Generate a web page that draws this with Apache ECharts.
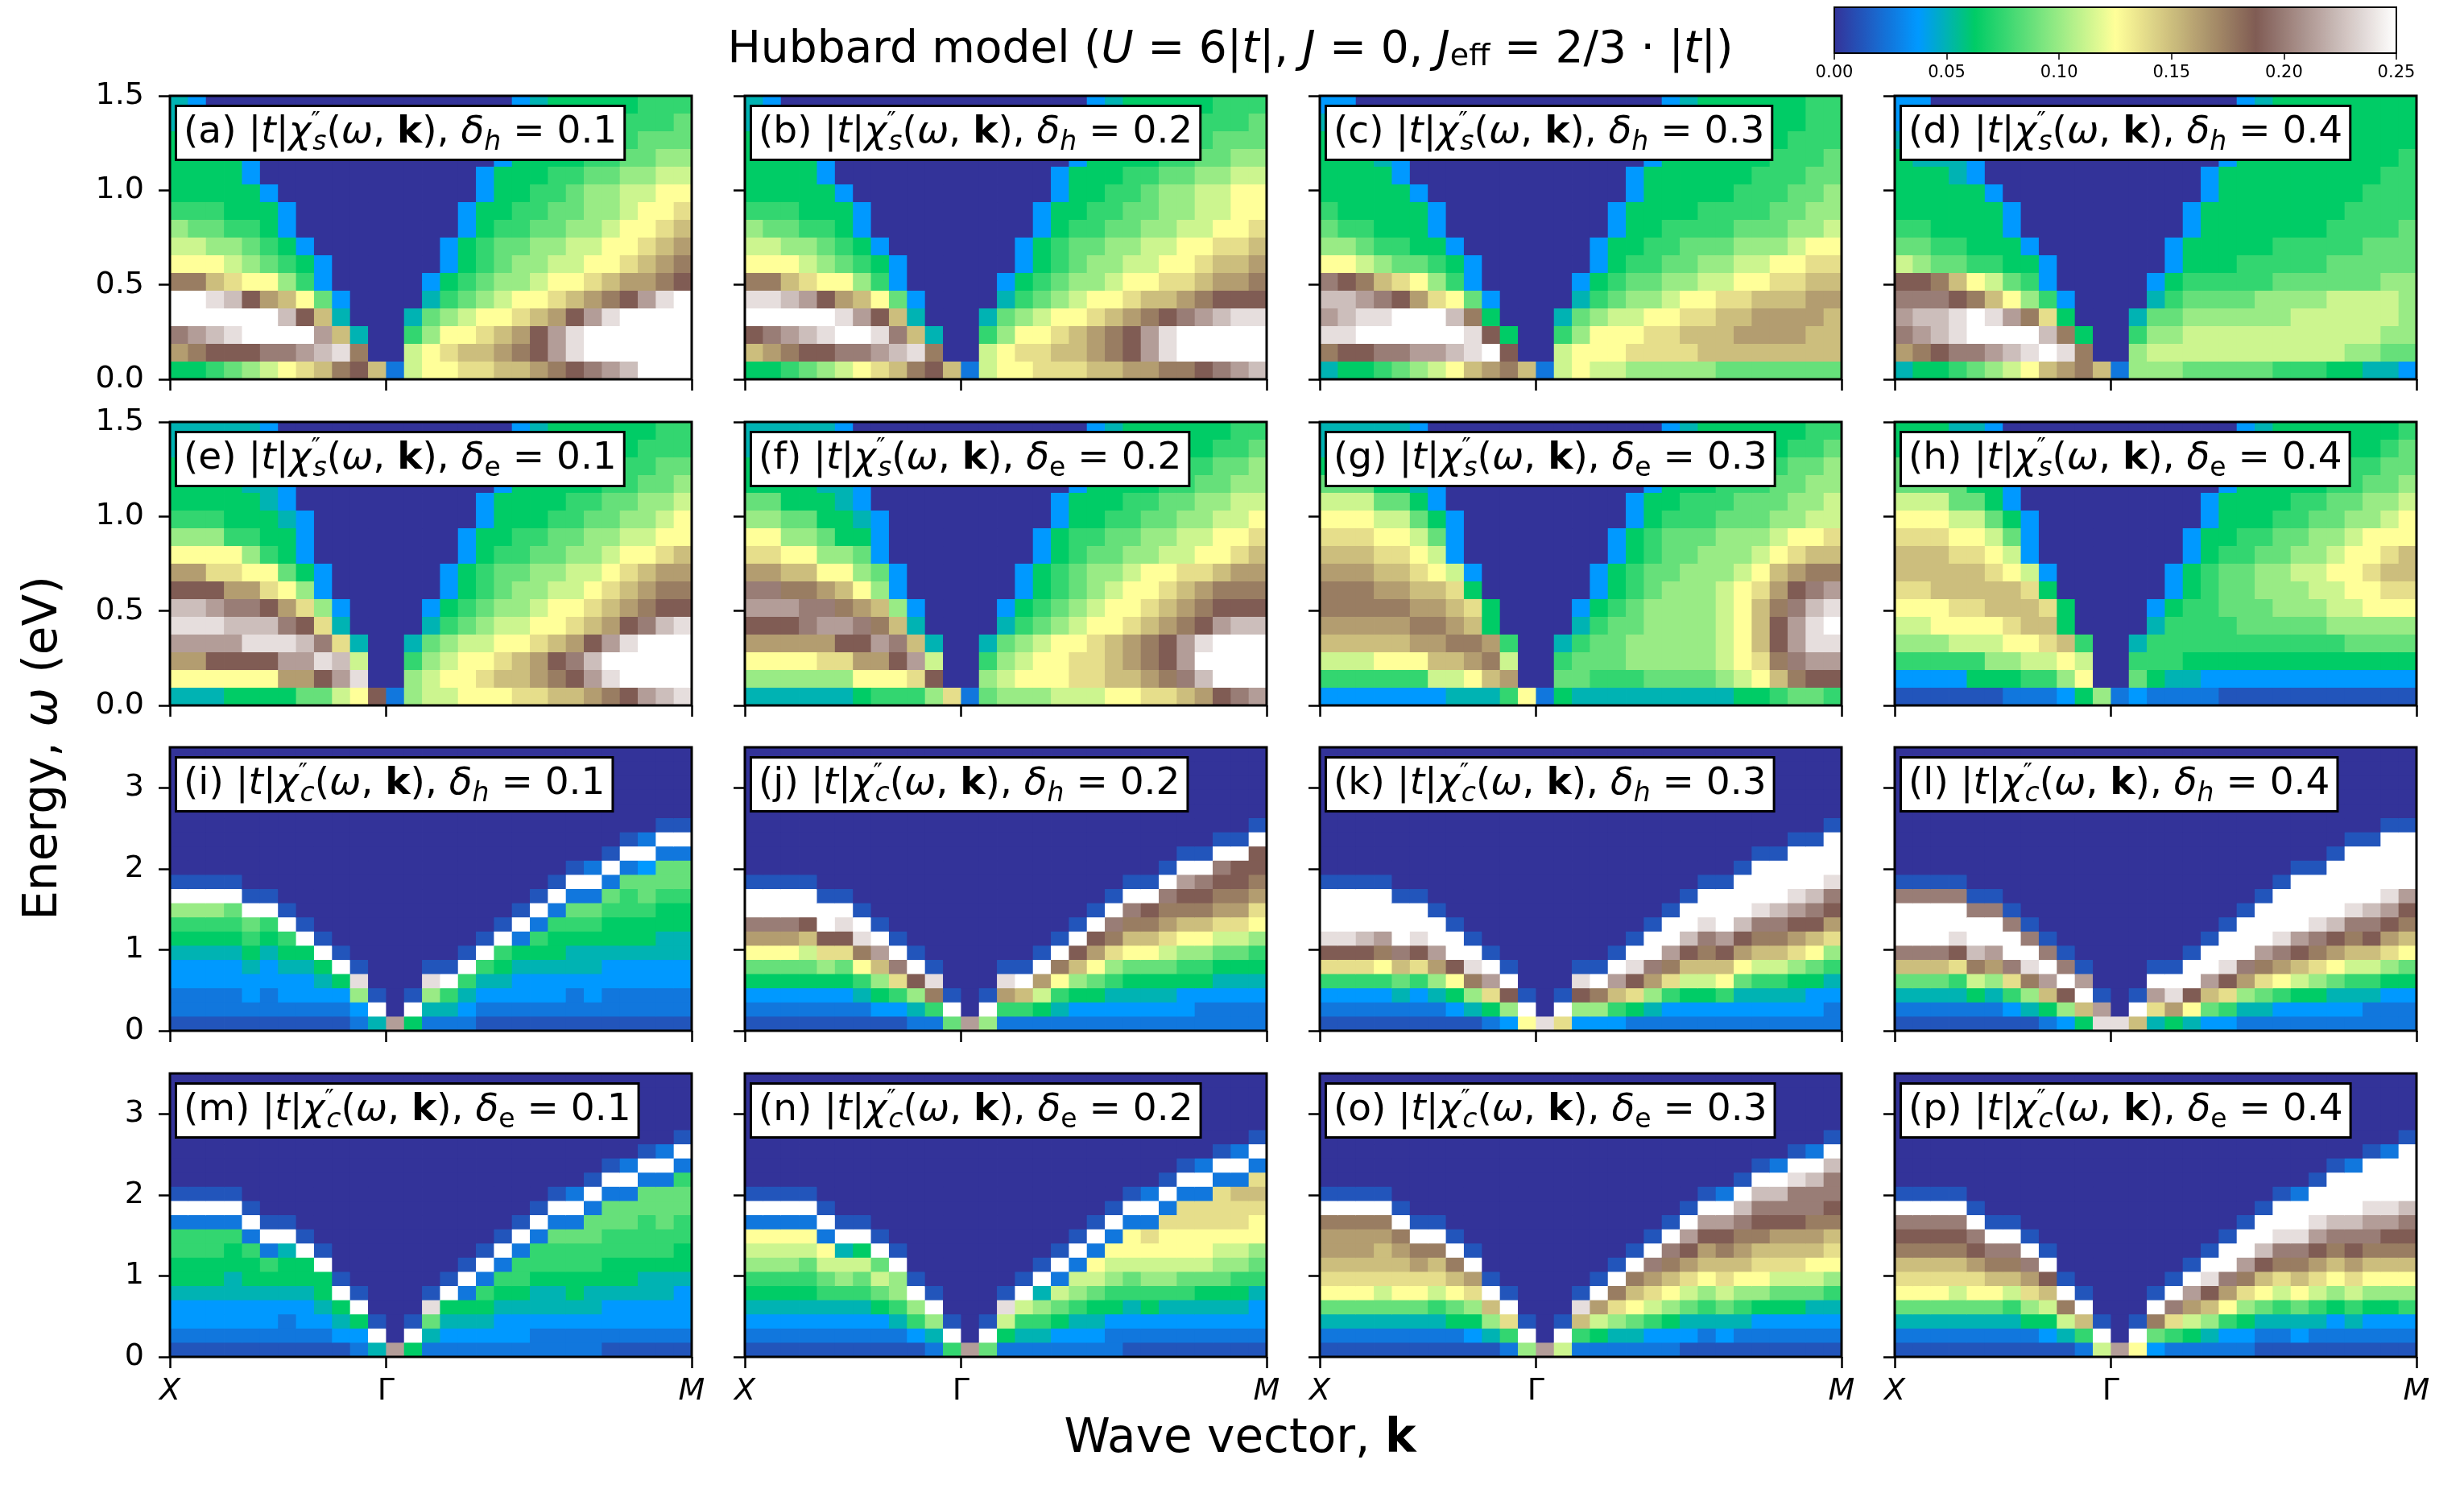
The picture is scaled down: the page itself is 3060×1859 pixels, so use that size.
<!DOCTYPE html>
<html>
<head>
<meta charset="utf-8">
<title>Hubbard model susceptibility</title>
<script src="https://cdn.jsdelivr.net/npm/echarts@6.0.0/dist/echarts.min.js"></script>
<style>
  html, body { margin: 0; padding: 0; background: #fff; }
  #chart { width: 3060px; height: 1859px; }
</style>
</head>
<body>
<div id="chart"></div>
<script>
// -------------------------
// Spin / charge susceptibility maps, Hubbard model
// -------------------------

const F = 'DejaVu Sans';

// one character per cell: level n means |t|chi'' = n * 0.0125 (k = 0.25, white)
const levels = '0123456789abcdefghijk';
const levelStep = 0.0125;
const z = n => '0'.repeat(n);   // run of empty (navy) cells

// k path X -> Gamma -> M, 12 + 17 cells
const kTicks = [0, 1, 1 + Math.SQRT2];
const kTickNames = ['X', 'Γ', 'M'];
const nKX = 12, nKM = 17;

const spinTicks = [0, 0.5, 1.0, 1.5];
const chargeTicks = [0, 1, 2, 3];
const colorbarTicks = [0, 0.05, 0.10, 0.15, 0.20, 0.25];
const dopings = [0.1, 0.2, 0.3, 0.4];
const panelLetters = 'abcdefghijklmnop';

// ---- spin panels: 16 rows (top = 1.5 eV), 29 k cells each ----
const spinA = [
  '43' + z(17) + '3455555666',
  '453' + z(16) + '3555556667',
  '5553' + z(14) + '35555566777',
  '55553' + z(13) + '35555667788',
  '55553' + z(12) + '355566778899',
  '555553' + z(11) + '3556678899aa',
  '6665553' + z(9) + '3556677889aab',
  '8776653' + z(9) + '356677889aabc',
  '99887653' + z(7) + '356778899aabcd',
  'aaa987653' + z(6) + '35678899aabcde',
  'eecbaa863' + z(5) + '3567889aabcddef',
  'kkjifdca73' + z(4) + '46789aabcdefhjk',
  'kkkkkkifc4' + z(3) + '4789aabcdfhjkkkk',
  'ghijkkkkhc4' + z(2) + '68aabcdfhjkkkkkk',
  'defffgghije' + z(2) + '9abccdefhjkkkkkk',
  '556789abcefc' + '2' + '9aabbccdefghikkk'
];
const spinB = [
  '43' + z(17) + '3455555666',
  '453' + z(16) + '3555556667',
  '5553' + z(14) + '35555566777',
  '55553' + z(13) + '35555667788',
  '55553' + z(12) + '355566778899',
  '555553' + z(11) + '3556678899aa',
  '6665553' + z(9) + '35566778899aa',
  '8776653' + z(9) + '3566778899aab',
  '99887653' + z(7) + '356778899aabbc',
  'aaa987653' + z(6) + '35678899aabccd',
  'eecbaa863' + z(5) + '3567889aabbcdde',
  'jjihfdca73' + z(4) + '46789aabccdefff',
  'kkkkkjhfc4' + z(3) + '4789aabcdefghijj',
  'fghijkkjgc4' + z(2) + '68aabcdefhjkkkkk',
  'cdeffgghije' + z(2) + '9abbccdefhjkkkkk',
  '556789abcefc' + '2' + '9aabbbccddeefghi'
];
const spinC = [
  '33' + z(17) + '3455555566',
  '433' + z(16) + '3555555566',
  '5443' + z(14) + '35555555666',
  '55543' + z(13) + '35555556667',
  '55553' + z(12) + '355555566677',
  '555553' + z(11) + '355555666778',
  '6555553' + z(9) + '3555566667788',
  '7665553' + z(9) + '3556666777889',
  '88766553' + z(7) + '355667778889aa',
  'aa9877653' + z(6) + '3566778899aabb',
  'gfecba863' + z(5) + '356778899aabbcc',
  'iihgfdba73' + z(4) + '467889aabbcccdd',
  'hijjkkkie5' + z(3) + '47899aabbccddddc',
  'jjkkkkkkjf5' + z(2) + '68aaabbcccddddcc',
  'effgghhijkf' + z(2) + '9aaabbbbcccccccc',
  '4556789acdec' + '2' + '9a99888887777777'
];
const spinD = [
  '33' + z(17) + '3455555555',
  '333' + z(16) + '3555555555',
  '4433' + z(14) + '35555555555',
  '54443' + z(13) + '35555555556',
  '55543' + z(12) + '355555555566',
  '555553' + z(11) + '355555555666',
  '5555553' + z(9) + '3555555556666',
  '6655553' + z(9) + '3555555566667',
  '77665553' + z(7) + '35555566666777',
  '987766553' + z(6) + '35556666677777',
  'ffeca9763' + z(5) + '356666677777788',
  'gggfeca863' + z(4) + '467777888899998',
  'hiijkjheb5' + z(3) + '4778888889999998',
  'ghijkkkkie5' + z(2) + '6889999999999988',
  'defgghijkje' + z(2) + '8999999999998877',
  '4556789acdec' + '2' + '8887777766655443'
];
const spinE = [
  '444443' + z(13) + '3455555566',
  '444443' + z(13) + '3555555666',
  '5544443' + z(11) + '35555556677',
  '5555443' + z(11) + '35555566778',
  '5555543' + z(10) + '355556677889',
  '66655543' + z(9) + '35556677889a',
  '88866553' + z(8) + '35566778899aa',
  'aaaa8653' + z(8) + '356677889aabc',
  'ddbbaa753' + z(6) + '356778899abcdd',
  'fffddba83' + z(6) + '35678899abcdee',
  'iihggfdb83' + z(4) + '3567889aabcdeff',
  'jjjiiigfb4' + z(4) + '467899aabcdfgij',
  'hhhhjjjigb4' + z(2) + '47899aabcdfhjkkk',
  'ddffffhhji9' + z(2) + '689aabcdfgikkkkk',
  'aaaaaaddfhj' + z(2) + '89aabccdefhjkkkk',
  '4445555779af' + '2' + '899aaabbccdefhij'
];
const spinF = [
  '444443' + z(13) + '3455555566',
  '444443' + z(13) + '3555555667',
  '5544443' + z(11) + '35555566778',
  '5555443' + z(11) + '35555667788',
  '7755543' + z(10) + '355566778899',
  '88775543' + z(9) + '35566778899a',
  'aa887553' + z(8) + '3566778899aab',
  'bbaa8873' + z(8) + '356778899aabc',
  'ddccaa873' + z(6) + '3567889aabbcdd',
  'ggeedca83' + z(6) + '356789aabcdeee',
  'hhhggedc83' + z(4) + '356789aabcdefff',
  'fffghhgec4' + z(4) + '46789aabcdefhii',
  'dddddffhgc4' + z(2) + '4789aabcdefhjkkk',
  'aaaabbddfh9' + z(2) + '689aabbcdefhkkkk',
  '888888aaabf' + z(2) + '89aaabbccdegikkk',
  '44444456668b' + '2' + '7888999aabbcdfgh'
];
const spinG = [
  '444443' + z(13) + '3455555566',
  '444443' + z(13) + '3555555667',
  '5554443' + z(11) + '35555566778',
  '7775543' + z(11) + '35556667788',
  '9997753' + z(10) + '355666777889',
  'aaa99753' + z(9) + '356667778899',
  'bbbaa973' + z(8) + '3567778889aab',
  'cccbba93' + z(8) + '356778889abcc',
  'dddccba93' + z(6) + '356778889acdee',
  'eeeddccb5' + z(6) + '35678889abdfgh',
  'eeeeeddcb5' + z(4) + '356788889acegij',
  'dddddeedc5' + z(4) + '467788889acfhjk',
  'cccccddeed6' + z(2) + '4677888889acfhjj',
  '999aaaccde9' + z(2) + '6777888889abeghh',
  '66666699acd' + z(2) + '77666777789aceff',
  '33333334446a' + '2' + '5444444444556776'
];
const spinH = [
  '555443' + z(13) + '3455555556',
  '555543' + z(13) + '3555555567',
  '7755553' + z(11) + '35555556677',
  '7777553' + z(11) + '35555566778',
  '9997753' + z(10) + '355556677889',
  'aaa99753' + z(9) + '35556677889a',
  'bbbaa973' + z(8) + '3556677889aaa',
  'cccbba93' + z(8) + '356677889aabc',
  'cccccba93' + z(6) + '356778899aabcc',
  'bbcccccb5' + z(6) + '3567788899aabb',
  'aaabbcccb5' + z(4) + '356677788899aaa',
  '99aaaabcc5' + z(4) + '466667777788888',
  '888999aabc6' + z(2) + '4666666666667777',
  '666668899a9' + z(2) + '6665555555555555',
  '3333555668a' + z(2) + '7544333333333333',
  '111111222358' + '2' + '3222211111111111'
];

// ---- charge panels: one string per k cell, listed down to 0 eV;
//      the 20 rows (top = 3.5 eV) above the listed cells are empty ----
const chargeI = ['1k865433221', '1k865433221', '1k865433221', '1k765433221', '1k76543321', '1k65433221',
  '1k6543321', '1k543321', '1k54321', '1k5321', '1j832', '1k4', 'h', '1k5', '1j842', '1k642', '1k6432',
  '1k64321', '1k654321', '1k2543321', '1k26543321', '1k265543321', '1k2765443221', '2k2765443321',
  '1k27655433221', '1k276655433221', '2k377655433221', '1k2776554433221', '1k2776554433221'];
const chargeJ = ['1kkgda75321', '1kkgda75321', '1kkgda75321', '1kkfc975321', '1kkfb85321', '1kjfb75321',
  '1kjea6421', '1khc8531', '1kgb631', '1kf842', '1je62', '1k7', 'h', '1k8', '1jd62', '1kc62', '1kd952',
  '1kea642', '1kfc8532', '1kfda7532', '1kgeb86432', '1kgeca75432', '1kfeca75432', '1kgedb975432',
  '1khfeca865332', '1kgfeca865322', '1kgfedb9754322', '1kffedb9754322', '1kffedba8654322'];
const chargeK = ['1kkkjfb6321', '1kkkjfb6321', '1kkkifb6321', '1kkkhea6321', '1kkkgc7421', '1kkjfb6321',
  '1kkhd8421', '1kkfa531', '1kje841', '1khb52', '1kf83', '1ka', 'j', '1kb', '1jf83', '1ke83', '1khc63',
  '1kjfb52', '1kkgd842', '1kkheb632', '1kkifc9532', '1kkjgec9532', '1kkkhfca632', '1kkkifda7432',
  '1kkkjgec96432', '1kkkigec96432', '1kkkjhfdb85432', '1kkkigfca75332', '1kkkjgfdb864322'];
const chargeL = ['1gkkkgc7421', '1gkkkgc7421', '1gkkkgc7421', '1gkkjfb6421', '1gkkie9521', '1gkkhd8421',
  '1gkkgb631', '1gkje841', '1gkhc52', '1gkf83', '1hkc5', '1hj', 'j', '1kc', '1khb4', '1kjd5', '1kkfa4',
  '1kkhc73', '1kkjfb63', '1kkkgd842', '1kkkheb742', '1kkkjgda632', '1kkkkhfc9532', '1kkkjgeb8532',
  '1kkkkifda7432', '1kkkkjgec96432', '1kkkkigfc96422', '1kkkkjhfdb85322', '1kkkkhfeca75322'];
const chargeM = ['1k2665543321', '1k2665543321', '1k2665543321', '1k2655443321', '1k265543321', '1k26543321',
  '1k45543221', '1k5543321', '1k554321', '1k5431', '1k532', '1k4', 'h', '1k5', '1j742', '1k5432', '1k25432',
  '1k265432', '1k2654332', '1k26654332', '1k266544322', '1k2766544322', '2k2766554322', '1k27766544322',
  '1k277665543321', '2k277665543321', '1k2776665443321', '2k2777665443321', '1k26776655433321'];
const chargeN = ['1k2a98654321', '1k2a98654321', '1k2a98654321', '1k2a97654321', '1k2a9764321', '1k49864321',
  '1k59764321', '1k7975321', '1k886421', '1k8631', '1k842', '1k6', 'h', '1k7', '1j952', '1k9642', '1k48642',
  '1k297532', '1k2986432', '1k2a975432', '1k2a9865322', '1k2aa9764321', '2k2ba9865321', '1k2baa9864321',
  '1k2bbaa9764321', '2k2bbaa9754321', '1k2bbba98754321', '2k2cbba98654321', '1k2bcbaa87643321'];
const chargeO = ['1keddcba7421', '1keddcba7421', '1keddcba7421', '1kedccb97421', '1kedcba7421', '1kedba7421',
  '1kecb96421', '1keca7521', '1kdb8531', '1kc841', '1kb62', '1k8', 'h', '1k9', '1jc62', '1kd952', '1keb842',
  '1keca742', '1kgdb9632', '1kgeca8532', '1khfdb97431', '1khfdca86421', '2khfecb97431', '1kigedca86421',
  '1kigfecba85321', '2kigfdcb975321', '1kjggfdcb975321', '2kiggedca974321', '1kiggfecba864321'];
const chargeP = ['1kgfecba7421', '1kgfecba7421', '1kgfecba7421', '1kgfecb97421', '1kgfdba7421', '1kgeca7421',
  '1kgec96421', '1kgdb8521', '1kfc9531', '1ke941', '1kc62', '1k9', 'h', '1ka', '1ke73', '1kgb62', '1khd952',
  '1kjfc842', '1kkgda632', '1kkheb8532', '1kkifca7421', '1kkjgeb96421', '2kkjgeca7431', '1kkjhfdb96421',
  '1kkkigeca85321', '2kkkigfdb96421', '1kkkjhgeca85321', '2kkkjhfeca85321', '1kkkkigfeca86321'];

const spinMaps = [spinA, spinB, spinC, spinD, spinE, spinF, spinG, spinH];
const chargeMaps = [chargeI, chargeJ, chargeK, chargeL, chargeM, chargeN, chargeO, chargeP];

// ----------------------
// Helpers
// ----------------------
const nK = nKX + nKM;
function kEdge(c) {
  return c <= nKX ? c * kTicks[1] / nKX : kTicks[1] + (c - nKX) * (kTicks[2] - kTicks[1]) / nKM;
}
function level(ch) {
  const i = levels.indexOf(ch);
  return (i < 0 ? 0 : i) * levelStep;
}
function spinCells(rows, wMax) {
  const n = rows.length, dw = wMax / n, out = [];
  rows.forEach((row, r) => {
    if (row.length !== nK) console.warn('row length', row.length);
    const w0 = (n - 1 - r) * dw;
    for (let c = 0; c < nK; c++) out.push([kEdge(c), kEdge(c + 1), w0, w0 + dw, level(row[c] || '0')]);
  });
  return out;
}
function chargeCells(cols, wMax, n) {
  const dw = wMax / n, out = [];
  cols.forEach((tail, c) => {
    const col = tail.padStart(n, '0');
    for (let r = 0; r < n; r++) {
      const w0 = (n - 1 - r) * dw;
      out.push([kEdge(c), kEdge(c + 1), w0, w0 + dw, level(col[r])]);
    }
  });
  return out;
}
function renderCell(params, api) {
  const a = api.coord([api.value(0), api.value(3)]);
  const b = api.coord([api.value(1), api.value(2)]);
  return {
    type: 'rect',
    shape: { x: a[0], y: a[1], width: b[0] - a[0] + 0.8, height: b[1] - a[1] + 0.8 },
    style: { fill: api.visual('color') }
  };
}

// matplotlib "terrain" colormap, sampled for the visualMap
const terrainStops = [[0, [51, 51, 153]], [0.15, [0, 153, 255]], [0.25, [0, 204, 102]],
  [0.5, [255, 255, 153]], [0.75, [128, 92, 84]], [1, [255, 255, 255]]];
function terrain(t) {
  for (let i = 1; i < terrainStops.length; i++) {
    const [t1, c1] = terrainStops[i], [t0, c0] = terrainStops[i - 1];
    if (t <= t1) {
      const f = (t - t0) / (t1 - t0);
      return 'rgb(' + c0.map((v, j) => Math.round(v + (c1[j] - v) * f)).join(',') + ')';
    }
  }
  return 'rgb(255,255,255)';
}
const terrainColors = [];
for (let i = 0; i <= 80; i++) terrainColors.push(terrain(i / 80));

// ----------------------
// Layout
// ----------------------
const colLeft = [211, 925, 1639, 2353];
const rowTop = [119, 524, 928, 1333];
const PW = 648, PH = 352;

const rowKinds = [
  { chi: 's', carrier: 'h', wMax: 1.5, ticks: spinTicks },
  { chi: 's', carrier: 'e', wMax: 1.5, ticks: spinTicks },
  { chi: 'c', carrier: 'h', wMax: 3.5, ticks: chargeTicks },
  { chi: 'c', carrier: 'e', wMax: 3.5, ticks: chargeTicks }
];

const base = { fontFamily: F, fill: '#000', color: '#000' };
const labRich = {
  n: { ...base, fontSize: 47, lineHeight: 58 },
  i: { ...base, fontSize: 47, lineHeight: 58, fontStyle: 'italic' },
  b: { ...base, fontSize: 47, lineHeight: 58, fontWeight: 'bold' },
  sp: { ...base, fontSize: 31, lineHeight: 30, verticalAlign: 'top', width: 2 },
  sb: { ...base, fontSize: 33, lineHeight: 30, verticalAlign: 'bottom', fontStyle: 'italic' },
  su: { ...base, fontSize: 33, lineHeight: 30, verticalAlign: 'bottom' }
};
function panelLabel(letter, chi, carrier, d) {
  const dsub = carrier === 'h' ? '{sb|h}' : '{su|e}';
  return '{n|(' + letter + ') |}{i|t}{n||}{i|χ}{sp|″}{sb|' + chi + '}{n|(}{i|ω}{n|, }{b|k}{n|), }{i|δ}'
    + dsub + '{n| = ' + d.toFixed(1) + '}';
}

const grids = [], xAxes = [], yAxes = [], series = [], graphics = [];
for (let row = 0; row < 4; row++) {
  for (let col = 0; col < 4; col++) {
    const p = row * 4 + col, kind = rowKinds[row];
    grids.push({ left: colLeft[col], top: rowTop[row], width: PW, height: PH });
    xAxes.push({
      gridIndex: p, type: 'value', min: kTicks[0], max: kTicks[2],
      axisLine: { show: false }, splitLine: { show: false },
      axisTick: { show: true, customValues: kTicks, length: 14, lineStyle: { color: '#000', width: 2.5 } },
      axisLabel: {
        show: row === 3, customValues: kTicks, margin: 24, fontFamily: F, fontSize: 38, color: '#000',
        formatter: v => {
          const i = kTicks.findIndex(t => Math.abs(t - v) < 1e-6);
          const name = kTickNames[i < 0 ? 0 : i];
          return name === 'Γ' ? '{u|Γ}' : '{it|' + name + '}';
        },
        rich: {
          it: { fontFamily: F, fontSize: 38, fontStyle: 'italic', color: '#000' },
          u: { fontFamily: F, fontSize: 38, color: '#000' }
        }
      }
    });
    yAxes.push({
      gridIndex: p, type: 'value', min: 0, max: kind.wMax,
      axisLine: { show: false }, splitLine: { show: false },
      axisTick: { show: true, customValues: kind.ticks, length: 14, lineStyle: { color: '#000', width: 2.5 } },
      axisLabel: {
        show: col === 0, customValues: kind.ticks, margin: 32, fontFamily: F, fontSize: 38, color: '#000',
        formatter: v => (kind.wMax < 2 ? v.toFixed(1) : String(Math.round(v)))
      }
    });
    const cells = row < 2 ? spinCells(spinMaps[p], kind.wMax) : chargeCells(chargeMaps[p - 8], kind.wMax, 20);
    series.push({
      type: 'custom', xAxisIndex: p, yAxisIndex: p, coordinateSystem: 'cartesian2d',
      dimensions: ['k0', 'k1', 'w0', 'w1', 'chi'], encode: { x: [0, 1], y: [2, 3] },
      renderItem: renderCell, data: cells, silent: true, clip: true
    });
    // frame
    graphics.push({
      type: 'rect', z: 50, silent: true,
      shape: { x: colLeft[col], y: rowTop[row], width: PW, height: PH },
      style: { fill: 'none', stroke: '#000', lineWidth: 3 }
    });
    // label box
    graphics.push({
      type: 'text', z: 60, silent: true, x: colLeft[col] + 9, y: rowTop[row] + 14,
      style: {
        text: panelLabel(panelLetters[p], kind.chi, kind.carrier, dopings[col]), rich: labRich,
        ...base, fontSize: 47, align: 'left', verticalAlign: 'top',
        backgroundColor: '#fff', borderColor: '#000', borderWidth: 3, padding: [3, 8, 3, 8]
      }
    });
  }
}

// colorbar axis
const cbLeft = 2278, cbTop = 9, cbW = 698, cbH = 57;
grids.push({ left: cbLeft, top: cbTop, width: cbW, height: cbH });
xAxes.push({
  gridIndex: 16, type: 'value', min: 0, max: 0.25,
  axisLine: { show: false }, splitLine: { show: false },
  axisTick: { show: true, customValues: colorbarTicks, length: 8, lineStyle: { color: '#000', width: 1.5 } },
  axisLabel: { customValues: colorbarTicks, margin: 14, fontFamily: F, fontSize: 21, color: '#000', formatter: v => v.toFixed(2) }
});
yAxes.push({ gridIndex: 16, type: 'value', show: false, min: 0, max: 1 });
graphics.push({
  type: 'rect', z: 50, silent: true,
  shape: { x: cbLeft, y: cbTop, width: cbW, height: cbH },
  style: { fill: 'none', stroke: '#000', lineWidth: 2 }
});

// title and axis names
const bigRich = {
  n: { ...base, fontSize: 58 },
  i: { ...base, fontSize: 58, fontStyle: 'italic' },
  b: { ...base, fontSize: 58, fontWeight: 'bold' },
  s: { ...base, fontSize: 40, lineHeight: 40, verticalAlign: 'bottom' },
  tn: { ...base, fontSize: 55 },
  ti: { ...base, fontSize: 55, fontStyle: 'italic' },
  ts: { ...base, fontSize: 38, lineHeight: 38, verticalAlign: 'bottom' }
};
graphics.push({
  type: 'text', z: 60, silent: true, x: 1528, y: 63,
  style: {
    text: '{tn|Hubbard model (}{ti|U}{tn| = 6|}{ti|t}{tn||, }{ti|J}{tn| = 0, }{ti|J}{ts|eff}{tn| = 2/3 · |}{ti|t}{tn||)}',
    rich: bigRich, ...base, fontSize: 55, align: 'center', verticalAlign: 'middle'
  }
});
graphics.push({
  type: 'text', z: 60, silent: true, x: 1540, y: 1788,
  style: { text: '{n|Wave vector, }{b|k}', rich: bigRich, ...base, fontSize: 58, align: 'center', verticalAlign: 'middle' }
});
graphics.push({
  type: 'text', z: 60, silent: true, x: 55, y: 929, rotation: Math.PI / 2,
  style: { text: '{n|Energy, }{i|ω}{n| (eV)}', rich: bigRich, ...base, fontSize: 58, align: 'center', verticalAlign: 'middle' }
});

const option = {
  animation: false,
  backgroundColor: '#fff',
  grid: grids,
  xAxis: xAxes,
  yAxis: yAxes,
  visualMap: {
    type: 'continuous', min: 0, max: 0.25, dimension: 4,
    seriesIndex: series.map((s, i) => i),
    orient: 'horizontal', left: cbLeft, top: cbTop, itemWidth: cbH, itemHeight: cbW,
    padding: 0, calculable: false, realtime: false, hoverLink: false, text: null,
    inRange: { color: terrainColors }
  },
  series: series,
  graphic: { elements: graphics }
};

const chart = echarts.init(document.getElementById('chart'), null, { renderer: 'canvas' });
chart.setOption(option);
</script>
</body>
</html>
